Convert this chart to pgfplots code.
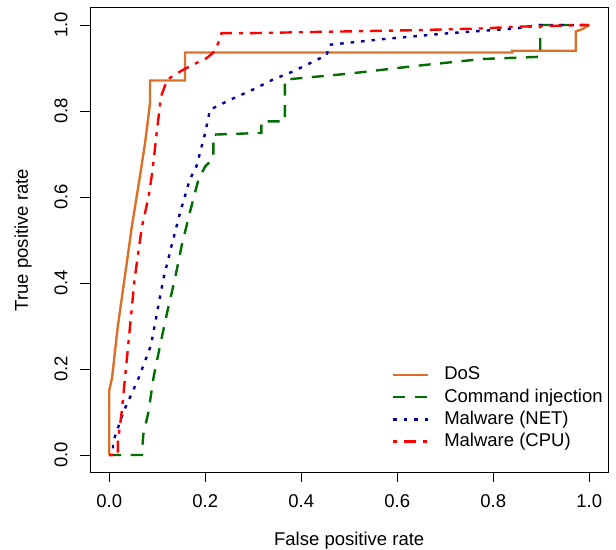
\documentclass[border=0pt]{standalone}
\usepackage{fontspec}
\setmainfont{Liberation Sans}
\usepackage{pgfplots}
\pgfplotsset{compat=1.18}
\definecolor{dosorange}{RGB}{221,112,40}
\definecolor{cmdgreen}{RGB}{0,110,0}
\definecolor{netblue}{RGB}{0,0,150}
\definecolor{cpured}{RGB}{255,0,0}
\newcommand{\rfont}{\fontsize{18.5bp}{22bp}\selectfont}

\begin{document}
\begin{tikzpicture}[x=1bp,y=1bp]
\useasboundingbox (0,0) rectangle (616,550);
\begin{axis}[
    at={(90bp,77.8bp)}, anchor=south west,
    scale only axis,
    width=518.4bp, height=464.4bp,
    xmin=-0.04, xmax=1.04, ymin=-0.04, ymax=1.04,
    xtick={0,0.2,0.4,0.6,0.8,1},
    ytick={0,0.2,0.4,0.6,0.8,1},
    xticklabels={0.0,0.2,0.4,0.6,0.8,1.0},
    yticklabels={0.0,0.2,0.4,0.6,0.8,1.0},
    xtick pos=left, ytick pos=left,
    tick align=outside,
    major tick length=10bp,
    axis line style={line width=0.9bp},
    every tick/.style={black, line width=0.9bp},
    tick label style={font=\rfont},
    xticklabel style={anchor=center, yshift=-19bp},
    yticklabel style={rotate=90, anchor=center, yshift=19bp},
    xlabel={False positive rate},
    ylabel={True positive rate},
    label style={font=\rfont},
    xlabel style={at={(axis description cs:0.5,-0.148)}, anchor=center},
    ylabel style={at={(axis description cs:-0.129,0.5)}, anchor=center},
    legend style={draw=none, fill=none, font=\rfont,
      at={(axis cs:0.5885,0.208)}, anchor=north west,
      inner sep=0pt, row sep=4.3bp, column sep=15bp,
      nodes={inner sep=0pt, text height=14bp, text depth=4bp}},
    legend cell align=left,
    legend image code/.code={\draw[#1] (0bp,0bp) -- (35bp,0bp);},
  ]

  % DoS
  \addplot[dosorange, line width=2.4bp] coordinates {
    (0,0) (0,0.15) (0.006,0.18) (0.018,0.30) (0.032,0.41) (0.047,0.53)
    (0.063,0.641) (0.074,0.72) (0.082,0.79) (0.085,0.82) (0.085,0.871)
    (0.158,0.871) (0.158,0.936) (0.84,0.936) (0.84,0.94) (0.972,0.94)
    (0.972,0.985) (0.985,0.99) (0.993,0.995) (1,1)
  };
  \addlegendentry{DoS}

  % Command injection
  \addplot[cmdgreen, line width=2.4bp, dash pattern=on 12bp off 9.5bp] coordinates {
    (0,0) (0.068,0) (0.071,0.047) (0.082,0.101) (0.092,0.178) (0.106,0.255)
    (0.121,0.333) (0.137,0.41) (0.151,0.487) (0.168,0.564) (0.186,0.641)
    (0.2,0.671) (0.214,0.687) (0.217,0.69) (0.217,0.745) (0.317,0.749)
    (0.317,0.776) (0.366,0.776) (0.366,0.873) (0.501,0.887) (0.64,0.905)
    (0.778,0.921) (0.898,0.926) (0.898,1.0) (1,1)
  };
  \addlegendentry{Command injection}

  % Malware (NET)
  \addplot[netblue, line width=2.4bp, dash pattern=on 3.5bp off 7bp] coordinates {
    (0,0) (0.008,0) (0.008,0.03) (0.03,0.101) (0.061,0.178) (0.087,0.255)
    (0.1,0.333) (0.113,0.41) (0.13,0.487) (0.148,0.565) (0.168,0.641)
    (0.182,0.672) (0.2,0.749) (0.21,0.803) (0.252,0.826) (0.3,0.85)
    (0.341,0.873) (0.383,0.892) (0.453,0.93) (0.459,0.954) (0.57,0.967)
    (0.709,0.981) (0.848,0.992) (0.896,1.0) (1,1)
  };
  \addlegendentry{Malware (NET)}

  % Malware (CPU)
  \addplot[cpured, line width=2.4bp, dash pattern=on 4bp off 7bp on 12bp off 7bp] coordinates {
    (0,0) (0.018,0) (0.018,0.03) (0.026,0.10) (0.04,0.26) (0.053,0.41)
    (0.068,0.53) (0.082,0.60) (0.09,0.66) (0.099,0.75) (0.108,0.834)
    (0.121,0.873) (0.148,0.892) (0.175,0.908) (0.203,0.923) (0.216,0.935)
    (0.227,0.957) (0.234,0.981) (0.293,0.981) (0.64,0.988) (0.778,0.992)
    (0.847,0.996) (1,1)
  };
  \addlegendentry{Malware (CPU)}

\end{axis}
\end{tikzpicture}
\end{document}
